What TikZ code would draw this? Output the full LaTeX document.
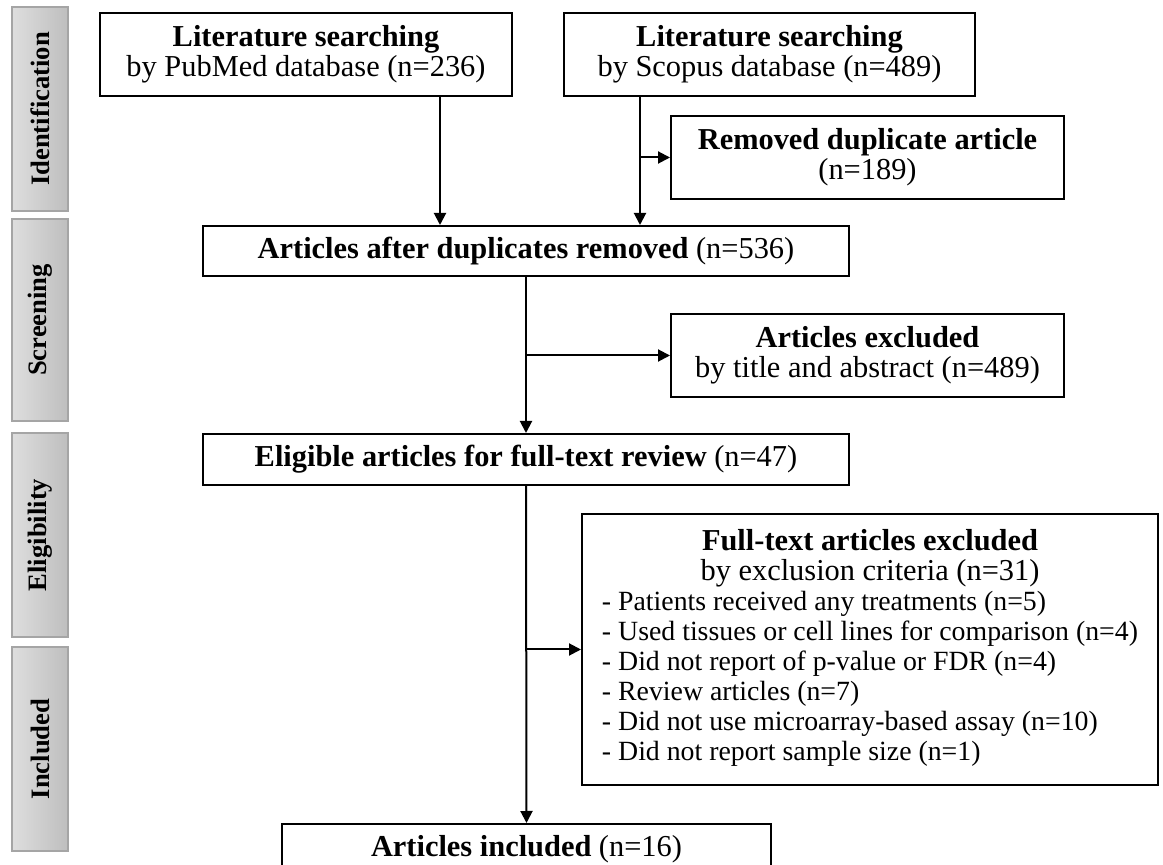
\documentclass[tikz,border=0pt]{standalone}
\usepackage{fontspec}
\setmainfont{Liberation Serif}
\usepackage{tikz}
\usetikzlibrary{arrows.meta,calc}
\definecolor{sidelight}{RGB}{222,222,222}
\definecolor{sidedark}{RGB}{190,190,190}
\definecolor{sideline}{RGB}{165,165,165}
\newcommand{\boxfont}{\fontsize{15.2}{15}\selectfont}
\newcommand{\listfont}{\fontsize{13.9}{15}\selectfont}

\begin{document}
\begin{tikzpicture}[x=0.5pt,y=-0.5pt,>={Triangle[length=6pt,width=6pt]},
  flowbox/.style={draw,line width=1pt,align=center,inner sep=2pt,font=\boxfont},
  phase/.style={draw=sideline,line width=0.6pt,left color=sidelight,right color=sidedark,
    minimum width=28pt,minimum height=102pt,inner sep=0pt,
    font=\bfseries\fontsize{13.3}{14}\selectfont},
  link/.style={->,line width=1pt}]
  \useasboundingbox (0,0) rectangle (1163,865);
  \node[phase] (ident)  at (40,109) {\rotatebox{90}{Identification}};
  \node[phase,minimum height=101pt] (screen) at (40,320) {\rotatebox{90}{Screening}};
  \node[phase] (elig)   at (40,535) {\rotatebox{90}{Eligibility}};
  \node[phase] (incl)   at (40,749) {\rotatebox{90}{Included}};
  \node[flowbox,minimum width=206pt,minimum height=41.5pt] (pubmed) at (306,54.5)
    {\textbf{Literature searching}\\by PubMed database (n=236)};
  \node[flowbox,minimum width=205.5pt,minimum height=41.5pt] (scopus) at (769.5,54.5)
    {\textbf{Literature searching}\\by Scopus database (n=489)};
  \node[flowbox,minimum width=196.5pt,minimum height=41.5pt] (dupl) at (867.5,157.5)
    {\textbf{Removed duplicate article}\\(n=189)};
  \node[flowbox,minimum width=323pt,minimum height=25pt] (afterdup) at (526,251)
    {\textbf{Articles after duplicates removed} (n=536)};
  \node[flowbox,minimum width=196.5pt,minimum height=41.5pt] (titleabs) at (867.5,355.5)
    {\textbf{Articles excluded}\\by title and abstract (n=489)};
  \node[flowbox,minimum width=323pt,minimum height=25.5pt] (eligible) at (526,459.5)
    {\textbf{Eligible articles for full-text review} (n=47)};
  \node[flowbox,minimum width=288pt,minimum height=135.5pt] (fulltext) at (870,649.5)
    {\begin{tabular}{@{}l@{}}
      \multicolumn{1}{@{}c@{}}{\textbf{Full-text articles excluded}}\\
      \multicolumn{1}{@{}c@{}}{by exclusion criteria (n=31)}\\
      \listfont - Patients received any treatments (n=5)\\
      \listfont - Used tissues or cell lines for comparison (n=4)\\
      \listfont - Did not report of p-value or FDR (n=4)\\
      \listfont - Review articles (n=7)\\
      \listfont - Did not use microarray-based assay (n=10)\\
      \listfont - Did not report sample size (n=1)
    \end{tabular}};
  \node[flowbox,minimum width=244.5pt,minimum height=25pt] (included) at (526.5,849)
    {\textbf{Articles included} (n=16)};
  \coordinate (pmout) at ([xshift=67pt]pubmed.south);
  \coordinate (scout) at ([xshift=-64.75pt]scopus.south);
  \draw[link] (pmout) -- (pmout |- afterdup.north);
  \draw[link] (scout) -- (scout |- afterdup.north);
  \draw[link] (scout |- dupl.west) -- (dupl.west);
  \draw[link] (afterdup.south) -- (eligible.north);
  \draw[link] (afterdup.south |- titleabs.west) -- (titleabs.west);
  \draw[link] (eligible.south) -- (included.north);
  \draw[link] (eligible.south |- fulltext.west) -- (fulltext.west);
\end{tikzpicture}
\end{document}
